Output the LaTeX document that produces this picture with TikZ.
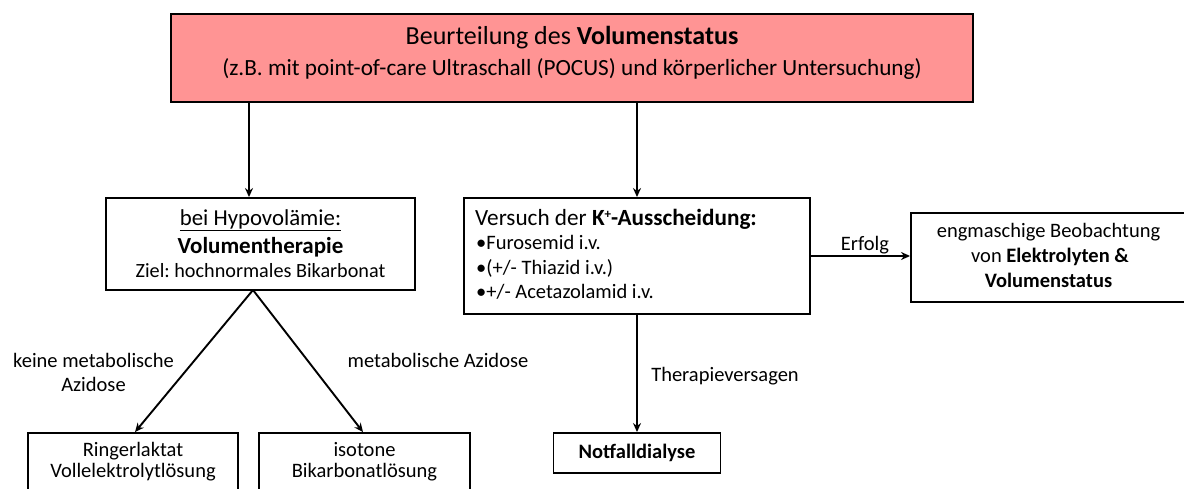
\documentclass[tikz,border=0pt]{standalone}
\usepackage{fontspec}
\setmainfont{Carlito}
\usetikzlibrary{arrows.meta}
\definecolor{topred}{HTML}{FF9494}
\frenchspacing
\tikzset{
  box/.style={draw=black, line width=1.9pt, inner sep=0pt, fill=white},
  ctxt/.style={font=\fontsize{20.5}{24}\selectfont, inner sep=0pt, anchor=base},
  ltxt/.style={font=\fontsize{20.5}{24}\selectfont, inner sep=0pt, anchor=base west},
  arr/.style={line width=1.9pt, -{Stealth[length=9pt,width=8pt]}},
}
\begin{document}
\begin{tikzpicture}[x=1pt,y=-1pt]
\useasboundingbox (0,0) rectangle (1184,488);
\clip (0,0) rectangle (1184,488);
% top box
\node[box, fill=topred, minimum width=802pt, minimum height=88pt] (top) at (572,58) {};
\node[ctxt, font=\fontsize{26}{30}\selectfont] (top1) at (572,44.5) {Beurteilung des \textbf{Volumenstatus}};
\node[ctxt, font=\fontsize{23.2}{28}\selectfont] (top2) at (572,75) {(z.B. mit point-of-care Ultraschall (POCUS) und körperlicher Untersuchung)};
% hypovolemia box
\node[box, minimum width=309pt, minimum height=92pt] (hypo) at (260.5,244) {};
\node[ctxt, font=\fontsize{22.8}{26}\selectfont] (h1) at (260.5,225) {\underline{bei Hypovolämie:}};
\node[ctxt, font=\fontsize{23}{26}\selectfont] (h2) at (260.5,253) {\textbf{Volumentherapie}};
\node[ctxt, font=\fontsize{20.2}{24}\selectfont] (h3) at (260.5,277.5) {Ziel: hochnormales Bikarbonat};
% K box
\node[box, minimum width=346pt, minimum height=116pt] (kbox) at (637,256) {};
\node[ltxt, font=\fontsize{23.2}{26}\selectfont] (k1) at (475,225) {Versuch der \textbf{K\raisebox{0.28em}{\fontsize{13}{14}\selectfont +}-Ausscheidung:}};
\node[ltxt] (k2) at (476,249.5) {•Furosemid i.v.};
\node[ltxt] (k3) at (476,274) {•(+/- Thiazid i.v.)};
\node[ltxt] (k4) at (476,298.5) {•+/- Acetazolamid i.v.};
% observation box
\node[box, minimum width=289pt, minimum height=89pt] (beob) at (1055.5,257.5) {};
\node[ctxt] (b1) at (1048.5,237.5) {engmaschige Beobachtung};
\node[ctxt] (b2) at (1050,262.5) {von \textbf{Elektrolyten \&}};
\node[ctxt] (b3) at (1048.5,287) {\textbf{Volumenstatus}};
% Notfalldialyse
\node[box, minimum width=167pt, minimum height=40pt] (notfall) at (637,453) {};
\node[ctxt] (nt) at (637,458.5) {\textbf{Notfalldialyse}};
% lower left boxes
\node[box, minimum width=210pt, minimum height=87pt] (ringer) at (133,476.5) {};
\node[ctxt] (r1) at (133,456) {Ringerlaktat};
\node[ctxt] (r2) at (133,477.5) {Vollelektrolytlösung};
\node[box, minimum width=211pt, minimum height=87pt] (iso) at (364.5,476.5) {};
\node[ctxt] (i1) at (364.5,456) {isotone};
\node[ctxt] (i2) at (364.5,477.5) {Bikarbonatlösung};
% connectors
\coordinate (c1) at (249,0);
\coordinate (hs) at (253,290);
\draw[arr] (top.south -| c1) -- (hypo.north -| c1);
\draw[arr] (top.south -| kbox.north) -- (kbox.north);
\draw[arr] (kbox.east) -- (beob.west |- kbox.east);
\draw[arr] (kbox.south) -- (notfall.north);
\draw[arr] (hs) -- ([xshift=2pt]ringer.north);
\draw[arr] (hs) -- ([xshift=-1.5pt]iso.north);
% labels
\node[ctxt] (l1a) at (93.5,367.5) {keine metabolische};
\node[ctxt] (l1b) at (93.5,391.5) {Azidose};
\node[ctxt] (l2) at (438,367.5) {metabolische Azidose};
\node[ctxt] (l3) at (725,381.5) {Therapieversagen};
\node[ctxt] (l4) at (865,250) {Erfolg};
\end{tikzpicture}
\end{document}
